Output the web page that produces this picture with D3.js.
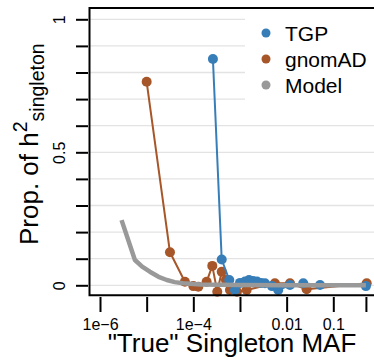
<!DOCTYPE html>
<html>
<head>
<meta charset="utf-8">
<script src="https://cdn.jsdelivr.net/npm/d3@7"></script>
<style>
  body { margin: 0; background: #fff; }
  svg { display: block; font-family: 'Liberation Sans', Arial, Helvetica, sans-serif; }
</style>
</head>
<body>
<div id="graph"></div>
<script>
// values
const tgpMaf = [2.63e-4, 4.06e-4, 5.9e-4, 7.8e-4, 1.0e-3, 1.28e-3, 1.56e-3, 1.9e-3, 2.31e-3, 2.82e-3, 3.43e-3, 4.85e-3, 6.6e-3, 0.0118, 0.0227, 0.052, 0.5]
const tgpProp = [0.851, 0.097, 0.02, -0.018, 0.009, 0.014, 0.02, 0.016, 0.014, 0.009, 0.0075, -0.003, -0.018, 0.001, 0.0075, 0.001, -0.003]

const gnomadMaf = [1e-5, 3.16e-5, 6.6e-5, 1e-4, 1.28e-4, 1.93e-4, 2.55e-4, 3.26e-4, 4.06e-4, 5e-4, 6.1e-4, 8.6e-4, 1.39e-3, 5.6e-3, 0.0118, 0.0268, 0.52]
const gnomadProp = [0.765, 0.124, 0.0135, -0.003, -0.005, 0.0135, 0.073, -0.024, 0.051, 0.02, -0.018, -0.024, -0.018, 0.0075, 0.0075, -0.015, 0.0075]

const modelMaf = [2.9e-6, 5.6e-6, 8e-6, 1.17e-5, 1.8e-5, 2.7e-5, 4e-5, 6e-5, 1e-4, 1.5e-4, 1e-3, 1e-2, 0.1, 0.5]
const modelProp = [0.245, 0.095, 0.07, 0.051, 0.032, 0.02, 0.012, 0.0075, 0.0045, 0.003, 0.0008, 0.0002, 0, 0]

const xTicks = [1e-6, 1e-5, 1e-4, 1e-3, 1e-2, 1e-1, 0.5]
const xTickLabels = ['1e\u22126', '', '1e\u22124', '', '0.01', '0.1', '']
const yTicks = [0, 0.1, 0.2, 0.3, 0.4, 0.5, 0.6, 0.7, 0.8, 0.9, 1]
const yTickLabels = ['0', '', '', '', '', '0.5', '', '', '', '', '1']

const seriesNames = ['TGP', 'gnomAD', 'Model']
const seriesColors = ['#377EB8', '#A65628', '#999999']

const width = 374, height = 362

const svg = d3.select('#graph').append('svg')
  .attr('width', width)
  .attr('height', height)

const x = d3.scaleLog().domain([1e-6, 1e-1]).range([100, 333.3])
const y = d3.scaleLinear().domain([0, 1]).range([285.3, 19.3])

const boxLeft = 89.5, boxRight = 400
const boxTop = y(1.0425), boxBottom = y(-0.0376)

// grid
svg.append('g')
  .selectAll('line')
  .data(yTicks)
  .join('line')
  .attr('x1', boxLeft)
  .attr('x2', boxRight)
  .attr('y1', (d) => y(d))
  .attr('y2', (d) => y(d))
  .attr('stroke', '#e3e3e3')
  .attr('stroke-width', 1.3)

// legend background hides grid
svg.append('rect')
  .attr('x', 245).attr('y', boxTop)
  .attr('width', boxRight - 245).attr('height', 110 - boxTop)
  .attr('fill', '#fff')

function series(maf, prop, color, r, lw) {
  const pts = maf.map((m, i) => [m, prop[i]])
  const line = d3.line().x((d) => x(d[0])).y((d) => y(d[1]))
  const g = svg.append('g')
  g.append('path')
    .attr('d', line(pts))
    .attr('fill', 'none')
    .attr('stroke', color)
    .attr('stroke-width', lw)
    .attr('stroke-linejoin', 'round')
  if (r > 0) {
    g.selectAll('circle')
      .data(pts)
      .join('circle')
      .attr('cx', (d) => x(d[0]))
      .attr('cy', (d) => y(d[1]))
      .attr('r', r)
      .attr('fill', color)
  }
}

series(gnomadMaf, gnomadProp, seriesColors[1], 5, 2)
series(tgpMaf, tgpProp, seriesColors[0], 5, 2)
series(modelMaf, modelProp, seriesColors[2], 0, 4.5)

// frame (left, top, bottom)
svg.append('path')
  .attr('d', `M${boxRight},${boxTop}H${boxLeft}V${boxBottom}H${boxRight}`)
  .attr('fill', 'none')
  .attr('stroke', '#000')
  .attr('stroke-width', 2)

// x axis
const xAxis = svg.append('g')
  .attr('transform', 'translate(0,297)')
  .call(d3.axisBottom(x).tickValues(xTicks).tickSize(15).tickFormat((d, i) => xTickLabels[i]))
xAxis.select('.domain').remove()
xAxis.selectAll('line').attr('stroke', '#000').attr('stroke-width', 2)
xAxis.selectAll('text').filter(function () { return this.textContent === '' }).remove()
xAxis.selectAll('text')
  .attr('y', 33).attr('dy', null)
  .attr('fill', '#000')
  .style('font-size', '16px')
  .style('font-family', null)

// y axis
const yAxis = svg.append('g')
  .attr('transform', 'translate(88,0)')
  .call(d3.axisLeft(y).tickValues(yTicks).tickSize(12).tickFormat((d, i) => yTickLabels[i]))
yAxis.select('.domain').remove()
yAxis.selectAll('line').attr('stroke', '#000').attr('stroke-width', 2)
yAxis.selectAll('text').filter(function () { return this.textContent === '' }).remove()
yAxis.selectAll('text')
  .attr('x', null).attr('dy', null)
  .attr('transform', 'translate(-23.5,0) rotate(-90)')
  .attr('text-anchor', 'middle')
  .attr('fill', '#000')
  .style('font-size', '16px')
  .style('font-family', null)

// axis titles
svg.append('text')
  .attr('x', 232).attr('y', 352)
  .attr('text-anchor', 'middle')
  .style('font-size', '26px')
  .text('"True" Singleton MAF')

const yTitle = svg.append('text')
  .attr('transform', 'translate(38,245) rotate(-90)')
  .style('font-size', '26px')
yTitle.append('tspan').text('Prop. of h')
yTitle.append('tspan').attr('dy', -11).style('font-size', '19.5px').text('2')
yTitle.append('tspan').attr('dy', 17).style('font-size', '19.5px').text('singleton')

// legend
const legend = svg.append('g')
  .selectAll('g')
  .data(seriesNames)
  .join('g')
  .attr('transform', (d, i) => `translate(266,${33 + i * 26})`)
legend.append('circle').attr('r', 4.5).attr('fill', (d, i) => seriesColors[i])
legend.append('text')
  .attr('x', 19).attr('y', 7.5)
  .style('font-size', '21px')
  .text((d) => d)
</script>
</body>
</html>
